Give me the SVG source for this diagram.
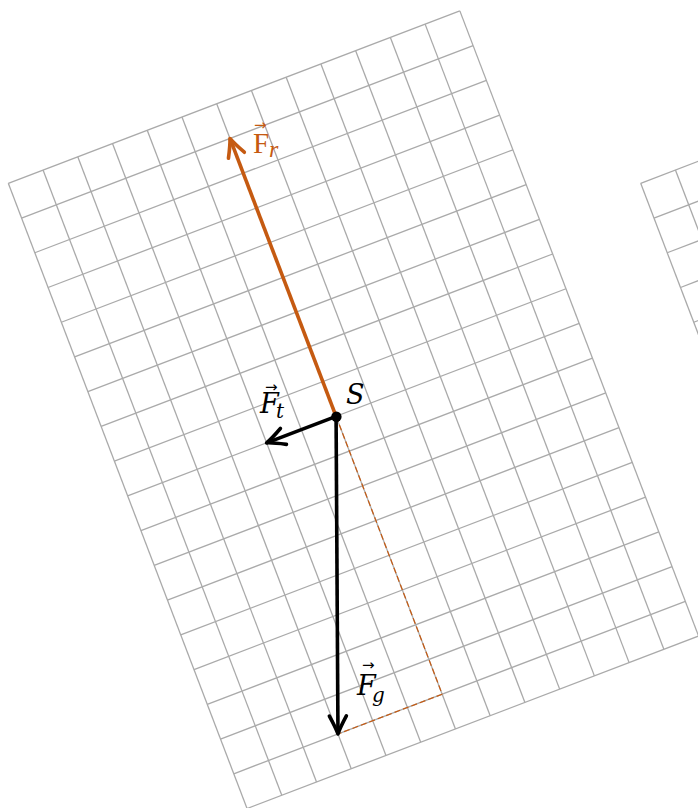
<svg xmlns="http://www.w3.org/2000/svg" width="698" height="808" viewBox="0 0 698 808">
<style>
.vec{stroke-width:3.6;fill:none;stroke-linecap:butt}
.black{stroke:#000000}
.orange{stroke:#c55a11}
.dash{stroke:#c55a11;stroke-width:1.2;stroke-dasharray:6 3;fill:none}
.lbl{font-family:"DejaVu Serif","Liberation Serif",serif;font-size:27px;font-style:italic;fill:#000}
.sub{font-size:20px}
.lblr{font-family:"Liberation Serif","DejaVu Serif",serif;font-size:29px;fill:#c55a11}
.acc{font-family:"DejaVu Sans",sans-serif;font-size:15px;font-style:normal}
</style>
<defs>
<marker id="ahB" markerUnits="userSpaceOnUse" markerWidth="40" markerHeight="40" refX="0" refY="0" viewBox="-20 -20 40 40" orient="auto" overflow="visible">
<path d="M -18,-8.5 Q -6,-2 0,0 Q -6,2 -18,8.5" fill="none" stroke="#000" stroke-width="3.6" stroke-linecap="round" stroke-linejoin="round"/>
</marker>
<marker id="ahO" markerUnits="userSpaceOnUse" markerWidth="40" markerHeight="40" refX="0" refY="0" viewBox="-20 -20 40 40" orient="auto" overflow="visible">
<path d="M -18,-8.5 Q -6,-2 0,0 Q -6,2 -18,8.5" fill="none" stroke="#c55a11" stroke-width="3.6" stroke-linecap="round" stroke-linejoin="round"/>
</marker>
<g id="gridlines" stroke="#aaaaaa" stroke-width="1.3" fill="none">
<line x1="0" y1="0" x2="0" y2="669.24"/><line x1="37.18" y1="0" x2="37.18" y2="669.24"/><line x1="74.36" y1="0" x2="74.36" y2="669.24"/><line x1="111.54" y1="0" x2="111.54" y2="669.24"/><line x1="148.72" y1="0" x2="148.72" y2="669.24"/><line x1="185.9" y1="0" x2="185.9" y2="669.24"/><line x1="223.08" y1="0" x2="223.08" y2="669.24"/><line x1="260.26" y1="0" x2="260.26" y2="669.24"/><line x1="297.44" y1="0" x2="297.44" y2="669.24"/><line x1="334.62" y1="0" x2="334.62" y2="669.24"/><line x1="371.8" y1="0" x2="371.8" y2="669.24"/><line x1="408.98" y1="0" x2="408.98" y2="669.24"/><line x1="446.16" y1="0" x2="446.16" y2="669.24"/><line x1="483.34" y1="0" x2="483.34" y2="669.24"/>
<line x1="0" y1="0" x2="483.34" y2="0"/><line x1="0" y1="37.18" x2="483.34" y2="37.18"/><line x1="0" y1="74.36" x2="483.34" y2="74.36"/><line x1="0" y1="111.54" x2="483.34" y2="111.54"/><line x1="0" y1="148.72" x2="483.34" y2="148.72"/><line x1="0" y1="185.9" x2="483.34" y2="185.9"/><line x1="0" y1="223.08" x2="483.34" y2="223.08"/><line x1="0" y1="260.26" x2="483.34" y2="260.26"/><line x1="0" y1="297.44" x2="483.34" y2="297.44"/><line x1="0" y1="334.62" x2="483.34" y2="334.62"/><line x1="0" y1="371.8" x2="483.34" y2="371.8"/><line x1="0" y1="408.98" x2="483.34" y2="408.98"/><line x1="0" y1="446.16" x2="483.34" y2="446.16"/><line x1="0" y1="483.34" x2="483.34" y2="483.34"/><line x1="0" y1="520.52" x2="483.34" y2="520.52"/><line x1="0" y1="557.7" x2="483.34" y2="557.7"/><line x1="0" y1="594.88" x2="483.34" y2="594.88"/><line x1="0" y1="632.06" x2="483.34" y2="632.06"/><line x1="0" y1="669.24" x2="483.34" y2="669.24"/>
</g>
</defs>
<rect width="698" height="808" fill="#ffffff"/>
<g id="grid-main" transform="translate(8.3,183.3) rotate(-20.9)">
<use href="#gridlines"/>
</g>
<g id="grid-right" transform="translate(640.7,183.3) rotate(-20.9)">
<use href="#gridlines"/>
</g>
<g id="connectors" transform="translate(8.3,183.3) rotate(-20.9)">
<line class="dash" x1="223.08" y1="334.62" x2="223.08" y2="632.06"/>
<line class="dash" x1="223.08" y1="632.06" x2="111.54" y2="632.06"/>
<line id="Fr" class="vec orange" x1="223.08" y1="334.62" x2="223.08" y2="37.18" marker-end="url(#ahO)"/>
<line id="Ft" class="vec black" x1="223.08" y1="334.62" x2="148.72" y2="334.62" marker-end="url(#ahB)"/>
<line id="Fg" class="vec black" x1="223.08" y1="334.62" x2="111.54" y2="632.06" marker-end="url(#ahB)"/>
</g>
<g id="node-S">
<circle cx="336.4" cy="416.8" r="5.2" fill="#000"/>
<text class="lbl" x="346" y="404">S</text>
</g>
<g id="label-Fr">
<text class="lblr"><tspan x="253" y="153">F</tspan><tspan class="acc" x="254" y="130">→</tspan><tspan font-size="24" font-style="italic" x="269" y="157">r</tspan></text>
</g>
<g id="label-Ft">
<text class="lbl"><tspan x="260" y="413">F</tspan><tspan class="acc" x="265" y="392">→</tspan><tspan class="sub" x="276" y="418">t</tspan></text>
</g>
<g id="label-Fg">
<text class="lbl"><tspan x="357" y="695">F</tspan><tspan class="acc" x="362" y="670">→</tspan><tspan class="sub" x="372" y="702">g</tspan></text>
</g>
</svg>
